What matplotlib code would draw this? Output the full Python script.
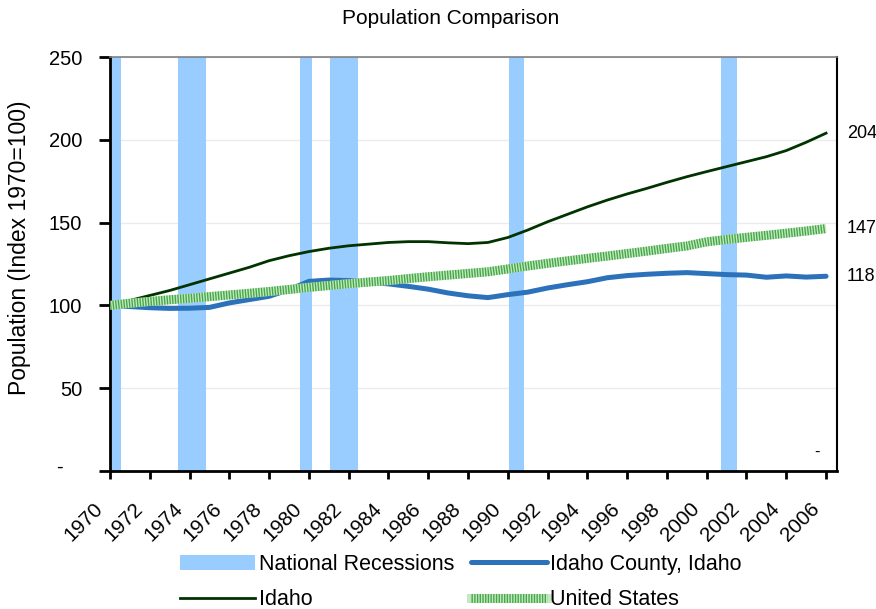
import numpy as np
import matplotlib
matplotlib.use("Agg")
import matplotlib.pyplot as plt
from matplotlib.lines import Line2D
from matplotlib.patches import Patch
from matplotlib.transforms import ScaledTranslation

plt.rcParams['font.family'] = ['Liberation Sans', 'DejaVu Sans']

# data
years = list(range(1970, 2007))
idaho_county = [100, 99.3, 98.6, 98.2, 98.3, 98.8, 101.5, 103.5, 105.5, 109.5,
                114.5, 115.3, 115.0, 114.0, 113.0, 111.5, 109.8, 107.5, 105.8, 104.7,
                106.5, 108.0, 110.5, 112.5, 114.3, 116.7, 118.0, 118.8, 119.4, 119.8,
                119.2, 118.6, 118.3, 117.0, 117.8, 117.1, 117.6]
idaho = [100, 103, 106, 109, 112.5, 116, 119.5, 123, 127, 130,
         132.5, 134.5, 136, 137, 138, 138.5, 138.5, 137.8, 137.3, 138,
         141, 145.5, 150.5, 155, 159.5, 163.6, 167.3, 170.7, 174.3, 177.7,
         180.8, 183.8, 186.8, 189.8, 193.5, 198.5, 204]
united_states = [100, 101.3, 102.4, 103.4, 104.3, 105.3, 106.3, 107.3, 108.4, 109.6,
                 110.9, 112.0, 113.1, 114.1, 115.0, 116.2, 117.3, 118.3, 119.3, 120.3,
                 122.0, 123.8, 125.4, 126.9, 128.4, 129.8, 131.3, 132.8, 134.4, 135.9,
                 138.4, 139.8, 141.1, 142.3, 143.6, 144.9, 146.4]
rec_start = [1970.0, 1973.4, 1979.55, 1981.05, 1990.05, 2000.7]
rec_end = [1970.55, 1974.85, 1980.15, 1982.45, 1990.8, 2001.5]
end_labels = ['204', '147', '118']
end_values = [idaho[-1], united_states[-1], idaho_county[-1]]
yticks = [0, 50, 100, 150, 200, 250]
ytick_labels = ['', '50', '100', '150', '200', '250']

rec_color = '#99ccff'
county_color = '#2b72ba'
idaho_color = '#003300'
us_light = '#c4e8c4'
us_dark = '#44a844'

fig = plt.figure(figsize=(8.76, 6.09), dpi=100)
ax = fig.add_axes([110/876, 1-471/609, (837-110)/876, (471-57)/609])

# recession bars
widths = [e - s for s, e in zip(rec_start, rec_end)]
ax.bar(rec_start, [250]*len(rec_start), width=widths, align='edge',
       color=rec_color, linewidth=0, zorder=1)

ax.plot(years, idaho_county, color=county_color, lw=3.6, solid_capstyle='round', zorder=3)
ax.plot(years, idaho, color=idaho_color, lw=2.0, zorder=4)
ax.plot(years, united_states, color=us_light, lw=6.5, solid_capstyle='butt', zorder=5)
ax.plot(years, united_states, color=us_dark, lw=6.5, ls=(0, (0.15, 0.15)),
        dash_capstyle='butt', zorder=6)

for lab, val in zip(end_labels, end_values):
    ax.annotate(lab, xy=(2006, val), xytext=(15, 0), textcoords='offset points',
                ha='left', va='center', fontsize=13, annotation_clip=False)
ax.text(2005.56, 11.5, '-', ha='center', va='center', fontsize=12)

ax.set_xlim(1970, 2006.55)
ax.set_ylim(0, 250)
ax.set_xticks(years[::2])
ax.set_xticklabels([str(y) for y in years[::2]], rotation=45, ha='right',
                   va='center', rotation_mode='anchor', fontsize=14.8)
ax.set_yticks(yticks)
ax.set_yticklabels(ytick_labels, fontsize=14.5)
ax.tick_params(axis='x', length=6, width=2, pad=19, direction='out')
ax.tick_params(axis='y', length=8, width=2, pad=12, direction='out')
for lab in ax.get_xticklabels():
    lab.set_transform(lab.get_transform() + ScaledTranslation(-0.10, 0, fig.dpi_scale_trans))
ax.text(-0.069, 0.008, '-', transform=ax.transAxes, ha='center', va='center', fontsize=14.5)

ax.grid(axis='y', color='#ebebeb', lw=1)
ax.set_axisbelow(True)
ax.spines['left'].set_linewidth(2)
ax.spines['bottom'].set_linewidth(2)
ax.spines['right'].set_linewidth(1.5)
ax.spines['top'].set_color('#808080')
ax.spines['top'].set_linewidth(1.2)

fig.text(451/876, 1-18/609, 'Population Comparison', ha='center', va='center', fontsize=15)
fig.text(20/876, 1-248/609, 'Population (Index 1970=100)', rotation=90,
         ha='center', va='center', fontsize=16.5)

h_rec = Patch(facecolor=rec_color, edgecolor='none')
h_county = Line2D([], [], color=county_color, lw=3.6, solid_capstyle='round')
h_idaho = Line2D([], [], color=idaho_color, lw=2.0)
h_us = (Line2D([], [], color=us_light, lw=6.5),
        Line2D([], [], color=us_dark, lw=6.5, ls=(0, (0.15, 0.15))))
fig.legend([h_rec, h_idaho, h_county, h_us],
           ['National Recessions', 'Idaho', 'Idaho County, Idaho', 'United States'],
           ncol=2, loc='upper left', bbox_to_anchor=(180/876, 1-554/609),
           frameon=False, fontsize=15.5, handlelength=3.5, handletextpad=0.15,
           columnspacing=0.8, labelspacing=0.66, borderpad=0, borderaxespad=0)

fig.savefig('out.png', dpi=100)
